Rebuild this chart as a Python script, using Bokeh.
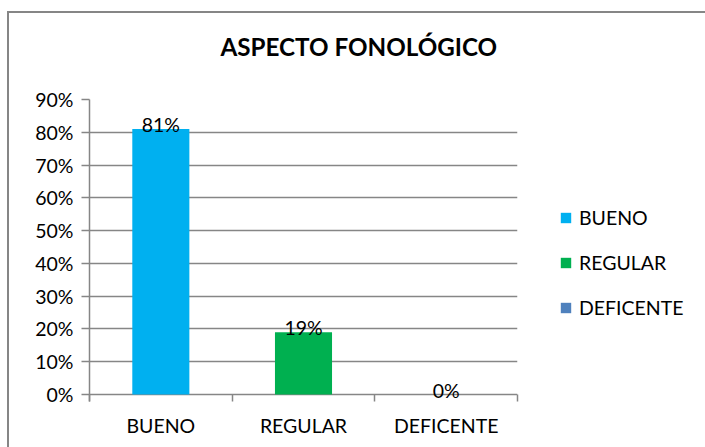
from bokeh.plotting import figure
from bokeh.models import ColumnDataSource, Range1d, FixedTicker, NumeralTickFormatter, LabelSet, Title
from bokeh.core.properties import value
from bokeh.embed import file_html
from bokeh.resources import INLINE

# ---- data ----
categories = ["BUENO", "REGULAR", "DEFICENTE"]
values = [0.81, 0.19, 0.0]
value_labels = ["81%", "19%", "0%"]
colors = ["#00B0F0", "#00B050", "#4F81BD"]
y_ticks = [0.0, 0.1, 0.2, 0.3, 0.4, 0.5, 0.6, 0.7, 0.8, 0.9]
title_text = "ASPECTO FONOLÓGICO"

FONT = "Lato"
GRAY = "#868686"
FS = "19.5px"

# ---- layout constants (pixels) ----
PX_PER_UNIT = 295 / 0.9          # 0%..90% spans 295 px
TICK_LEN = 7                     # category-boundary ticks below the zero line

xs = [i + 0.5 for i in range(len(categories))]
src = ColumnDataSource(dict(x=xs, top=values, cat=categories, color=colors, lbl=value_labels))

p = figure(frame_width=428, frame_height=302, output_backend="svg", toolbar_location=None,
           x_range=Range1d(0, len(categories)),
           y_range=Range1d(-TICK_LEN / PX_PER_UNIT, y_ticks[-1]),
           min_border_left=80, min_border_top=86, min_border_right=188, min_border_bottom=46)
p.title = None
p.styles = {"margin-left": "7px", "margin-top": "11px",
            "border-left": "2px solid #868686", "border-top": "2px solid #868686"}
p.outline_line_color = None
p.background_fill_color = "white"
p.border_fill_color = "white"

p.vbar(x="x", top="top", bottom=0, width=0.4, source=src, fill_color="color",
       line_color=None, legend_field="cat")

# title (spacer first so the title sits higher above the plot area)
p.add_layout(Title(text=" ", text_font_size="1px", standoff=36), "above")
p.add_layout(Title(text=title_text, align="left", offset=131, standoff=0,
                   text_font=FONT, text_font_size="24.2px", text_font_style="bold",
                   text_color="black"), "above")

# y axis
p.yaxis.ticker = FixedTicker(ticks=y_ticks)
p.yaxis.formatter = NumeralTickFormatter(format="0%")
p.yaxis.axis_line_color = GRAY
p.yaxis.axis_line_width = 1.5
p.yaxis.major_tick_line_color = GRAY
p.yaxis.major_tick_line_width = 1.5
p.yaxis.major_tick_out = 8
p.yaxis.major_tick_in = 0
p.yaxis.minor_tick_line_color = None
p.yaxis.major_label_standoff = 8
p.yaxis.major_label_text_font = FONT
p.yaxis.major_label_text_font_size = FS
p.yaxis.major_label_text_color = "black"

# x axis: zero gridline acts as the axis line, boundary ticks point up to it
p.xaxis.ticker = FixedTicker(ticks=xs, minor_ticks=list(range(len(categories) + 1)))
p.xaxis.major_label_overrides = {x: c for x, c in zip(xs, categories)}
p.xaxis.axis_line_color = None
p.xaxis.major_tick_line_color = None
p.xaxis.major_tick_out = 0
p.xaxis.major_tick_in = 0
p.xaxis.minor_tick_line_color = GRAY
p.xaxis.minor_tick_line_width = 1.5
p.xaxis.minor_tick_out = 0
p.xaxis.minor_tick_in = TICK_LEN
p.xaxis.major_label_standoff = 12
p.xaxis.major_label_text_font = FONT
p.xaxis.major_label_text_font_size = FS
p.xaxis.major_label_text_color = "black"

p.xgrid.grid_line_color = None
p.ygrid.grid_line_color = GRAY
p.ygrid.grid_line_width = 1.5

# data labels
labels = LabelSet(x="x", y="top", text="lbl", source=src, text_align="center",
                  text_baseline="alphabetic", y_offset=-3, text_font=value(FONT),
                  text_font_size=value(FS), text_color="black")
p.add_layout(labels)

# legend in the right panel
lg = p.legend[0]
p.center.remove(lg)
p.add_layout(lg, "right")
lg.location = (42, 82)
lg.padding = 0
lg.margin = 0
lg.border_line_color = None
lg.background_fill_alpha = 0
lg.glyph_width = 13
lg.glyph_height = 13
lg.label_height = 23
lg.spacing = 22
lg.label_standoff = 7
lg.label_text_font = FONT
lg.label_text_font_size = FS
lg.label_text_color = "black"

open("out.html", "w").write(file_html(p, INLINE))
